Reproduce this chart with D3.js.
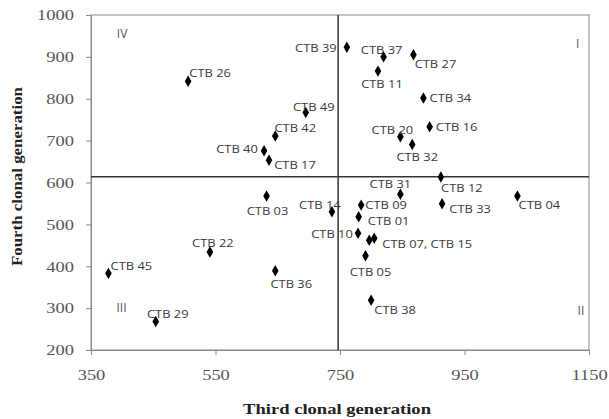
<!DOCTYPE html>
<html>
<head>
<meta charset="utf-8">
<script src="https://cdn.jsdelivr.net/npm/d3@7"></script>
<style>
  body { margin: 0; background: #fff; }
  .tick text { font-family: "Liberation Serif", "DejaVu Serif", serif; font-size: 15px; fill: #555; }
  .axis-title { font-family: "Liberation Serif", serif; font-weight: bold; font-size: 15.5px; fill: #222; }
  .pt-label { font-family: "Open Sans", "Noto Sans", sans-serif; font-size: 11.5px; fill: #3a3a3a; }
  .quad { font-family: "Open Sans", sans-serif; font-size: 12px; fill: #555; }
</style>
</head>
<body>
<svg id="chart" width="609" height="419"></svg>
<script>
// data
let names = ['CTB 26','CTB 49','CTB 42','CTB 40','CTB 17','CTB 03','CTB 39','CTB 37','CTB 27','CTB 11',
  'CTB 34','CTB 16','CTB 20','CTB 32','CTB 12','CTB 31','CTB 04','CTB 33','CTB 09','CTB 01',
  'CTB 14','CTB 10','CTB 07','CTB 15','CTB 05','CTB 38','CTB 22','CTB 45','CTB 36','CTB 29'];
let third = [506,695,646,628,636,632,761,820,868,811,
  884,894,847,866,912,847,1035,914,784,780,
  737,779,797,805,791,800,541,378,646,454];
let fourth = [842,767,711,676,653,568,923,900,905,866,
  802,733,709,691,613,572,568,549,546,518,
  530,479,462,467,425,319,434,383,389,268];
let labels = names.map(n => n);
labels[22] = '';
labels[23] = 'CTB 07, CTB 15';

let xTicks = [350,550,750,950,1150];
let yTicks = [200,300,400,500,600,700,800,900,1000];
let meanThird = 747;
let meanFourth = 614;
let quadrants = [['IV',400,957],['I',1132,933],['II',1137,295],['III',399,302]];

// label offsets (px) from each point, same order as names
let labelOffset = [[22,-9],[8,-6],[20,-9],[-27,-2],[26,4],[1,15],[-31,0],[-2,-7],[22,9],[4,12],
  [27,0],[27,0],[-8,-7],[5,12],[21,10],[-10,-11],[22,9],[28,5],[25,-1],[30,4],
  [-12,-7],[-26,0],[0,0],[53,5],[5,16],[24,9],[3,-10],[23,-8],[16,13],[12,-8]];

let svg = d3.select('#chart');
let mLeft = 91, mRight = 589, mTop = 15, mBottom = 350;

let sx = d3.scaleLinear().domain([350,1150]).range([mLeft,mRight]);
let sy = d3.scaleLinear().domain([200,1000]).range([mBottom,mTop]);

// the original picture is a bit stretched sideways
function widen(sel, k){
  sel.each(function(){
    let w = this.getComputedTextLength();
    if (w > 0) d3.select(this).attr('textLength', w*k).attr('lengthAdjust', 'spacingAndGlyphs');
  });
}

// plot frame
svg.append('rect')
  .attr('x', mLeft).attr('y', mTop)
  .attr('width', mRight-mLeft).attr('height', mBottom-mTop)
  .attr('fill', 'none').attr('stroke', '#8a8a8a').attr('stroke-width', 1);

let xAxis = svg.append('g')
  .attr('transform', `translate(0,${mBottom})`)
  .call(d3.axisBottom(sx).tickValues(xTicks).tickFormat(d3.format('d')).tickSize(5).tickPadding(14));
let yAxis = svg.append('g')
  .attr('transform', `translate(${mLeft},0)`)
  .call(d3.axisLeft(sy).tickValues(yTicks).tickFormat(d3.format('d')).tickSize(5).tickPadding(12));
[xAxis, yAxis].forEach(a => {
  a.select('.domain').attr('stroke', '#8a8a8a');
  a.selectAll('.tick line').attr('stroke', '#8a8a8a');
  widen(a.selectAll('.tick text'), 1.23);
});

// mean lines
svg.append('line')
  .attr('x1', sx(meanThird)).attr('x2', sx(meanThird))
  .attr('y1', mTop).attr('y2', mBottom)
  .attr('stroke', '#333').attr('stroke-width', 1.5);
svg.append('line')
  .attr('x1', mLeft).attr('x2', mRight)
  .attr('y1', sy(meanFourth)).attr('y2', sy(meanFourth))
  .attr('stroke', '#333').attr('stroke-width', 1.5);

svg.selectAll('.quad')
  .data(quadrants)
  .enter().append('text')
  .attr('class', 'quad')
  .attr('x', d => sx(d[1]))
  .attr('y', d => sy(d[2]))
  .attr('text-anchor', 'middle')
  .attr('dominant-baseline', 'central')
  .text(d => d[0]);

let diamond = d3.symbol().type(d3.symbolDiamond).size(38);
svg.selectAll('.pt')
  .data(names)
  .enter().append('path')
  .attr('class', 'pt')
  .attr('d', diamond)
  .attr('transform', (_,i) => `translate(${sx(third[i])},${sy(fourth[i])})`)
  .attr('fill', '#000');

let ptLabels = svg.selectAll('.pt-label')
  .data(labels)
  .enter().append('text')
  .attr('class', 'pt-label')
  .attr('x', (_,i) => sx(third[i]) + labelOffset[i][0])
  .attr('y', (_,i) => sy(fourth[i]) + labelOffset[i][1])
  .attr('text-anchor', 'middle')
  .attr('dominant-baseline', 'central')
  .text(d => d);
widen(ptLabels, 1.12);

svg.append('text')
  .attr('class', 'axis-title')
  .attr('x', (mLeft+mRight)/2 - 3).attr('y', 408)
  .attr('text-anchor', 'middle')
  .attr('dominant-baseline', 'central')
  .attr('textLength', 188).attr('lengthAdjust', 'spacingAndGlyphs')
  .text('Third clonal generation');

svg.append('text')
  .attr('class', 'axis-title')
  .attr('transform', `translate(16,${(mTop+mBottom)/2 - 6}) rotate(-90)`)
  .attr('text-anchor', 'middle')
  .attr('dominant-baseline', 'central')
  .attr('textLength', 179).attr('lengthAdjust', 'spacingAndGlyphs')
  .text('Fourth clonal generation');
</script>
</body>
</html>
